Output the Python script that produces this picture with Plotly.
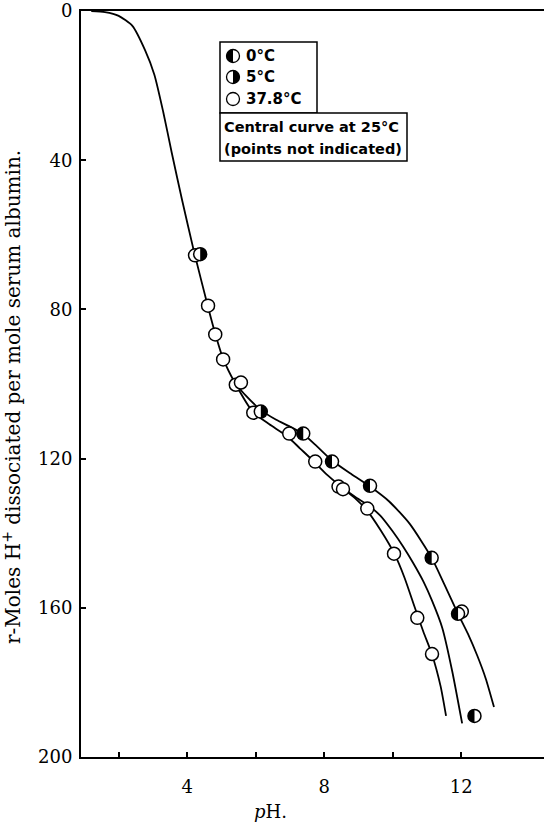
import numpy as np
import plotly.graph_objects as go

# ---- curves (pH, r) ----
shared_ph = [1.2, 1.6, 2.0, 2.4, 2.77, 3.04, 3.3, 3.55, 3.85, 4.2, 4.6, 4.82, 5.05, 5.4]
shared_r = [0.0, 0.3, 1.3, 4.0, 10.5, 17.0, 27.0, 38.0, 50.6, 64.5, 79.0, 86.5, 93.2, 99.8]

left_ph = [5.93, 6.4, 6.92, 7.3, 7.68, 8.08, 8.5, 8.9, 9.26, 9.65, 10.05, 10.35, 10.65, 10.9, 11.15, 11.4, 11.56]
left_r = [107.6, 110.8, 114.0, 117.3, 120.6, 124.3, 127.6, 130.6, 134.0, 139.2, 145.5, 152.0, 160.0, 166.5, 172.5, 181.0, 189.0]

mid_ph = [8.9, 9.3, 9.64, 10.0, 10.3, 10.6, 10.9, 11.15, 11.45, 11.74, 12.03]
mid_r = [130.2, 132.6, 135.3, 139.5, 143.5, 148.0, 153.0, 158.1, 165.4, 177.0, 191.0]

right_ph = [5.7, 6.13, 6.6, 7.0, 7.39, 7.8, 8.23, 8.8, 9.34, 9.9, 10.5, 11.14, 11.5, 11.91, 12.2, 12.47, 12.72, 12.96]
right_r = [103.0, 106.8, 109.6, 111.4, 113.4, 116.8, 120.5, 124.2, 127.5, 131.5, 137.5, 146.6, 153.5, 161.6, 167.0, 172.8, 179.0, 186.6]

# ---- measured points ----
pts37_ph = [4.23, 4.61, 4.82, 5.05, 5.42, 5.57, 5.93, 6.98, 7.74, 8.42, 8.55, 9.26, 10.04, 10.72, 11.15, 12.02]
pts37_r = [65.5, 79.0, 86.7, 93.4, 100.2, 99.6, 107.7, 113.3, 120.8, 127.5, 128.2, 133.4, 145.5, 162.7, 172.4, 161.0]

pts0_ph = [7.39, 8.23, 9.34, 11.14, 11.91, 12.39]
pts0_r = [113.3, 120.8, 127.3, 146.6, 161.6, 189.0]

pts5_ph = [4.38, 6.15]
pts5_r = [65.2, 107.4]

xtick_vals = [4, 8, 12]
xminor_vals = [2, 6, 10]
ytick_vals = [0, 40, 80, 120, 160, 200]
legend_labels = ["0°C", "5°C", "37.8°C"]
note_lines = ["Central curve at 25°C", "(points not indicated)"]

fig = go.Figure()

line_style = dict(color="black", width=1.8, shape="spline", smoothing=0.6)
fig.add_trace(go.Scatter(x=shared_ph + left_ph, y=shared_r + left_r, mode="lines", line=line_style, hoverinfo="skip"))
fig.add_trace(go.Scatter(x=[8.5] + mid_ph, y=[127.6] + mid_r, mode="lines", line=line_style, hoverinfo="skip"))
fig.add_trace(go.Scatter(x=[5.4] + right_ph, y=[99.8] + right_r, mode="lines", line=line_style, hoverinfo="skip"))

mk = dict(symbol="circle", size=13, color="white", line=dict(color="black", width=1.5))
fig.add_trace(go.Scatter(x=pts37_ph, y=pts37_r, mode="markers", marker=mk, name="37.8°C"))
fig.add_trace(go.Scatter(x=pts0_ph, y=pts0_r, mode="markers", marker=mk, name="0°C"))
fig.add_trace(go.Scatter(x=pts5_ph, y=pts5_r, mode="markers", marker=mk, name="5°C"))

R = 6.5
def half_path(side, r):
    if side == "left":
        ang = np.linspace(np.pi / 2, 3 * np.pi / 2, 25)
    else:
        ang = np.linspace(-np.pi / 2, np.pi / 2, 25)
    pts = [f"{r*np.cos(a):.2f},{r*np.sin(a):.2f}" for a in ang]
    return "M " + " L ".join(pts) + " Z"

shapes = []
for x, y in zip(pts0_ph, pts0_r):
    shapes.append(dict(type="path", xref="x", yref="y", xsizemode="pixel", ysizemode="pixel",
                       xanchor=x, yanchor=y, path=half_path("left", R), fillcolor="black",
                       line=dict(width=0)))
for x, y in zip(pts5_ph, pts5_r):
    shapes.append(dict(type="path", xref="x", yref="y", xsizemode="pixel", ysizemode="pixel",
                       xanchor=x, yanchor=y, path=half_path("right", R), fillcolor="black",
                       line=dict(width=0)))

# ---- legend boxes (paper coords from pixel layout) ----
L, T, W, H = 81, 11, 463, 746
def px(xp):
    return (xp - L) / W
def py(yp):
    return (T + H - yp) / H

shapes.append(dict(type="rect", xref="paper", yref="paper", x0=px(220), x1=px(317), y0=py(113), y1=py(42),
                   line=dict(color="black", width=1.5), fillcolor="white", layer="above"))
shapes.append(dict(type="rect", xref="paper", yref="paper", x0=px(220), x1=px(407), y0=py(161), y1=py(113),
                   line=dict(color="black", width=1.5), fillcolor="white", layer="above"))

sym_y = [56, 77, 99]
sym_fill = ["left", "right", None]
lr = 6.5
for yy, side in zip(sym_y, sym_fill):
    shapes.append(dict(type="circle", xref="paper", yref="paper", xsizemode="pixel", ysizemode="pixel",
                       xanchor=px(233), yanchor=py(yy), x0=-lr, x1=lr, y0=-lr, y1=lr,
                       fillcolor="white", line=dict(color="black", width=1.3)))
    if side:
        shapes.append(dict(type="path", xref="paper", yref="paper", xsizemode="pixel", ysizemode="pixel",
                           xanchor=px(233), yanchor=py(yy), path=half_path(side, lr), fillcolor="black",
                           line=dict(width=0)))

annotations = []
leg_font = dict(family="DejaVu Sans", size=15, color="black")
for yy, lab in zip(sym_y, legend_labels):
    annotations.append(dict(xref="paper", yref="paper", x=px(244), y=py(yy), text="<b>" + lab + "</b>",
                            showarrow=False, xanchor="left", yanchor="middle", font=leg_font))
note_font = dict(family="DejaVu Sans", size=14.5, color="black")
for yy, lab in zip([127, 149], note_lines):
    annotations.append(dict(xref="paper", yref="paper", x=px(222), y=py(yy), text="<b>" + lab + "</b>",
                            showarrow=False, xanchor="left", yanchor="middle", font=note_font))

serif = dict(family="DejaVu Serif", size=18, color="black")
annotations.append(dict(xref="paper", yref="paper", x=px(270), y=py(811), text="<i>p</i>H.",
                        showarrow=False, xanchor="center", yanchor="middle", font=serif))
annotations.append(dict(xref="paper", yref="paper", x=px(12), y=py(397),
                        text="r-Moles H<sup>+</sup> dissociated per mole serum albumin.",
                        showarrow=False, xanchor="center", yanchor="middle", textangle=-90,
                        font=dict(family="DejaVu Serif", size=20, color="black")))

fig.update_layout(
    width=544, height=822,
    margin=dict(l=L, r=0, t=T, b=822 - T - H, pad=0),
    paper_bgcolor="white", plot_bgcolor="white",
    showlegend=False,
    shapes=shapes, annotations=annotations,
    xaxis=dict(range=[0.9, 14.42], tickvals=xtick_vals, ticks="inside",
               ticklen=5, tickwidth=1.5, tickcolor="black", showline=True, linewidth=2, linecolor="black",
               mirror=True, showgrid=False, zeroline=False, tickfont=serif, ticklabelstandoff=12,
               minor=dict(tickvals=xminor_vals, ticks="inside", ticklen=5, tickwidth=1.5,
                          tickcolor="black", showgrid=False)),
    yaxis=dict(range=[200, 0], tickvals=ytick_vals, ticks="inside", ticklen=5, tickwidth=1.5,
               tickcolor="black", showline=True, linewidth=2, linecolor="black", showgrid=False,
               zeroline=False, tickfont=serif, ticklabelstandoff=3),
)

fig.write_html("out.html")
